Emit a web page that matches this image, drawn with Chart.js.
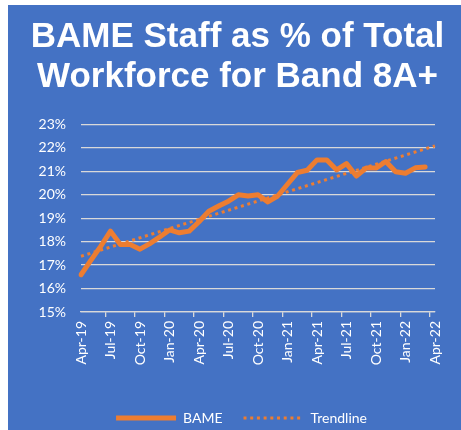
<!DOCTYPE html>
<html>
<head>
<meta charset="utf-8">
<script src="https://cdn.jsdelivr.net/npm/chart.js@4"></script>
<style>
  html, body { margin: 0; background: #fff; overflow: hidden; }
  .panel { position: absolute; left: 8px; top: 5px; width: 453px; height: 425px; background: #4472C4; overflow: hidden; }
  .panel canvas { display: block; }
</style>
</head>
<body>
<div class="panel"><canvas id="chart" width="453" height="430"></canvas></div>
<script>
// months on the axis (Apr-22 has no value, only the trendline reaches it)
const MONTHS = [
  'Apr-19', 'May-19', 'Jun-19', 'Jul-19', 'Aug-19', 'Sep-19', 'Oct-19', 'Nov-19', 'Dec-19',
  'Jan-20', 'Feb-20', 'Mar-20', 'Apr-20', 'May-20', 'Jun-20', 'Jul-20', 'Aug-20', 'Sep-20',
  'Oct-20', 'Nov-20', 'Dec-20', 'Jan-21', 'Feb-21', 'Mar-21', 'Apr-21', 'May-21', 'Jun-21',
  'Jul-21', 'Aug-21', 'Sep-21', 'Oct-21', 'Nov-21', 'Dec-21', 'Jan-22', 'Feb-22', 'Mar-22',
  'Apr-22',
];
// BAME share of band 8A+ workforce, %
const BAME = [
  16.59, 17.2, 17.8, 18.45, 17.88, 17.88, 17.68, 17.92, 18.2,
  18.5, 18.38, 18.45, 18.85, 19.3, 19.52, 19.73, 20.0, 19.95,
  20.0, 19.7, 19.95, 20.45, 20.95, 21.05, 21.49, 21.49, 21.06,
  21.33, 20.8, 21.14, 21.14, 21.42, 20.98, 20.92, 21.15, 21.19,
];
// trendline: value at first and last month, the line joins them
const TREND_ENDS = [17.38, 22.09];
const Y_TICKS = [15, 16, 17, 18, 19, 20, 21, 22, 23];

const ORANGE = '#ED7D31';
const GRID = '#D9D9D9';
const TEXT = '#FFFFFF';

Chart.defaults.font.family = "Lato, 'Open Sans', sans-serif";
Chart.defaults.color = TEXT;

const trend = MONTHS.map((_, i) => i === 0 ? TREND_ENDS[0] : i === MONTHS.length - 1 ? TREND_ENDS[1] : null);

// title and legend sit a bit right of where chart.js centres them
const nudgeBoxes = {
  id: 'nudgeBoxes',
  afterLayout(chart) {
    chart.titleBlock.left += 16; chart.titleBlock.right += 16;
    chart.legend.left += 20; chart.legend.right += 20;
  },
};

new Chart(document.getElementById('chart'), {
  type: 'line',
  data: {
    labels: MONTHS,
    datasets: [
      {
        label: 'BAME',
        data: BAME,
        borderColor: ORANGE, backgroundColor: ORANGE,
        borderWidth: 5, pointRadius: 0, tension: 0,
        borderJoinStyle: 'round', borderCapStyle: 'round',
      },
      {
        label: 'Trendline',
        data: trend,
        borderColor: ORANGE, backgroundColor: ORANGE,
        borderWidth: 3, borderDash: [3, 3.7], pointRadius: 0, spanGaps: true,
      },
    ],
  },
  options: {
    responsive: false,
    animation: false,
    layout: { padding: { left: 0, right: 26, top: 0, bottom: 0 } },
    plugins: {
      title: {
        display: true,
        text: ['BAME Staff as % of Total', 'Workforce for Band 8A+'],
        color: TEXT,
        font: { family: "'Liberation Sans', Arial, sans-serif", size: 35, weight: 'bold', lineHeight: 40 / 35 },
        padding: { top: 12, bottom: 27.5 },
      },
      legend: {
        position: 'bottom',
        labels: {
          usePointStyle: true, pointStyle: 'line', pointStyleWidth: 60,
          padding: 21, color: TEXT, font: { size: 14 },
          // point style legend ignores the dataset dash, so copy it over
          generateLabels: (chart) => Chart.defaults.plugins.legend.labels.generateLabels(chart)
            .map((item, i) => ({ ...item, lineDash: chart.data.datasets[i].borderDash || [] })),
        },
      },
      tooltip: { enabled: false },
    },
    scales: {
      x: {
        grid: {
          offset: true, drawOnChartArea: false, tickLength: 5, lineWidth: 1.3,
          tickColor: (c) => (c.index !== undefined && c.index % 3 === 0) ? GRID : 'transparent',
        },
        border: { display: true, color: GRID, width: 1.3 },
        ticks: {
          autoSkip: false, minRotation: 90, maxRotation: 90, padding: 4,
          font: { size: 14 },
          callback: (v, i) => i % 3 === 0 ? MONTHS[i] : '',
        },
        afterFit: (s) => { s.height = 78; },
      },
      y: {
        min: Y_TICKS[0], max: Y_TICKS[Y_TICKS.length - 1],
        grid: { color: GRID, lineWidth: 1.3, drawTicks: false },
        border: { display: false },
        ticks: { stepSize: 1, padding: 15, font: { size: 14 }, callback: (v) => v + '%' },
        afterFit: (s) => { s.width = 73; },
      },
    },
  },
  plugins: [nudgeBoxes],
});
</script>
</body>
</html>
